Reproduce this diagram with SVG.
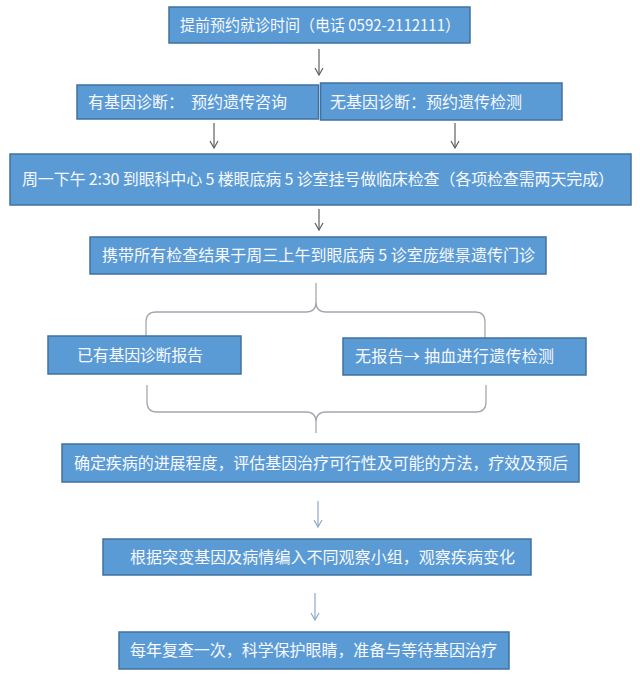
<svg xmlns="http://www.w3.org/2000/svg" width="640" height="679" viewBox="0 0 640 679">
<style>
.box{fill:#5B9BD5;stroke:#41719C;stroke-width:1.5}
.t{font-family:"Noto Sans CJK SC","Noto Sans",sans-serif;font-size:16px;fill:#F7F9FC}
.arr{fill:none;stroke:#5F5F5F;stroke-width:1.2;marker-end:url(#ah)}
.arr2{fill:none;stroke:#8EA6CC;stroke-width:1.2;marker-end:url(#ah2)}
.brace{fill:none;stroke:#A3A8B0;stroke-width:1.3}
</style>
<defs>
<marker id="ah" markerUnits="userSpaceOnUse" markerWidth="12" markerHeight="12" viewBox="-10 -6 12 12" refX="0" refY="0" orient="auto">
<path d="M-7,-4 L0,0 L-7,4" fill="none" stroke="#5F5F5F" stroke-width="1.2"/>
</marker>
<marker id="ah2" markerUnits="userSpaceOnUse" markerWidth="12" markerHeight="12" viewBox="-10 -6 12 12" refX="0" refY="0" orient="auto">
<path d="M-7,-4 L0,0 L-7,4" fill="none" stroke="#8EA6CC" stroke-width="1.2"/>
</marker>
</defs>
<rect width="640" height="679" fill="#FFFFFF"/>
<g id="connectors">
<line class="arr" x1="319" y1="49" x2="319" y2="75"/>
<line class="arr" x1="214" y1="123" x2="214" y2="148"/>
<line class="arr" x1="455" y1="123" x2="455" y2="148"/>
<line class="arr" x1="319" y1="209" x2="319" y2="230"/>
<path class="brace" d="M146,338 L146,322 Q146,312 156,312 L306,312 Q316,312 316,302 L316,283 M316,302 Q316,312 326,312 L475,312 Q485,312 485,322 L485,338"/>
<path class="brace" d="M147,385 L147,402 Q147,412 157,412 L306,412 Q316,412 316,422 L316,433 M316,422 Q316,412 326,412 L476,412 Q486,412 486,402 L486,385"/>
<line class="arr2" x1="318" y1="501" x2="318" y2="527"/>
<line class="arr2" x1="315" y1="593" x2="315" y2="620"/>
</g>
<g id="n1"><rect class="box" x="169" y="7" width="301" height="36"/><text class="t" x="180" y="31" textLength="280" lengthAdjust="spacingAndGlyphs">提前预约就诊时间（电话 0592-2112111）</text></g>
<g id="n2a"><rect class="box" x="77" y="85" width="241.5" height="34"/><text class="t" x="88" y="108" textLength="199" xml:space="preserve">有基因诊断：  预约遗传咨询</text></g>
<g id="n2b"><rect class="box" x="320.5" y="83" width="241.5" height="37"/><text class="t" x="330" y="108" textLength="192">无基因诊断：预约遗传检测</text></g>
<g id="n3"><rect class="box" x="10" y="154" width="621" height="51"/><text class="t" x="22" y="185" textLength="592" xml:space="preserve">周一下午 2:30 到眼科中心 5 楼眼底病 5 诊室挂号做临床检查（各项检查需两天完成）</text></g>
<g id="n4"><rect class="box" x="90" y="237" width="456" height="37"/><text class="t" x="102" y="261" textLength="433" xml:space="preserve">携带所有检查结果于周三上午到眼底病 5 诊室庞继景遗传门诊</text></g>
<g id="n5a"><rect class="box" x="48" y="336" width="193" height="38"/><text class="t" x="77" y="361" textLength="126">已有基因诊断报告</text></g>
<g id="n5b"><rect class="box" x="343" y="338" width="243" height="37"/><text class="t" x="355" y="362" textLength="199" xml:space="preserve">无报告→ 抽血进行遗传检测</text></g>
<g id="n6"><rect class="box" x="62" y="444" width="517" height="38"/><text class="t" x="74" y="469" textLength="494">确定疾病的进展程度，评估基因治疗可行性及可能的方法，疗效及预后</text></g>
<g id="n7"><rect class="box" x="103" y="539" width="428" height="36"/><text class="t" x="130" y="563" textLength="385">根据突变基因及病情编入不同观察小组，观察疾病变化</text></g>
<g id="n8"><rect class="box" x="119" y="632" width="390" height="37"/><text class="t" x="130" y="656" textLength="367">每年复查一次，科学保护眼睛，准备与等待基因治疗</text></g>
</svg>
